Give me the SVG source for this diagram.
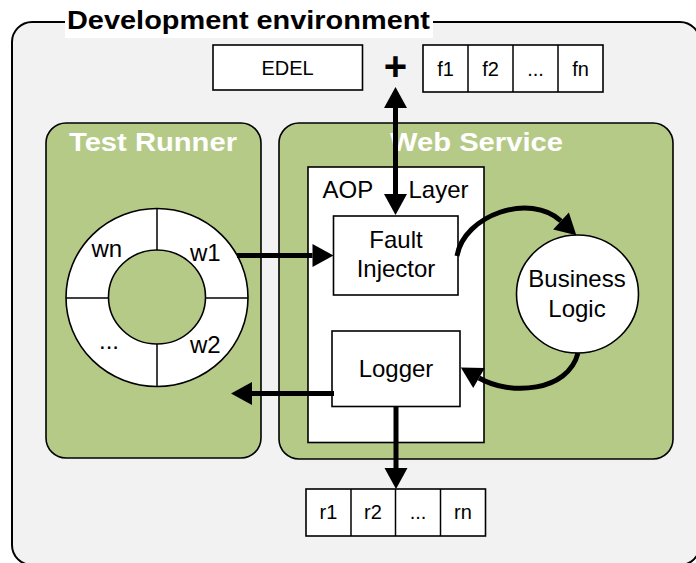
<svg xmlns="http://www.w3.org/2000/svg" width="696" height="563" viewBox="0 0 696 563">
  <style>
    .frame { fill: #f2f2f2; stroke: #000; stroke-width: 2; }
    .panel { fill: #b6ca88; stroke: #000; stroke-width: 1.6; }
    .box { fill: #fff; stroke: #000; stroke-width: 1.6; }
    .thin { fill: none; stroke: #000; stroke-width: 1.5; }
    .wire { fill: none; stroke: #000; stroke-width: 5; }
    .t { font-family: "Liberation Sans", Arial, sans-serif; fill: #000; }
    .t24 { font-size: 24px; }
    .t20 { font-size: 20px; }
    .mid { text-anchor: middle; }
    .head { font-family: "Liberation Sans", Arial, sans-serif; font-weight: bold; font-size: 26px; }
  </style>
  <defs>
    <marker id="arrow" markerUnits="userSpaceOnUse" markerWidth="24" markerHeight="26" refX="0" refY="12" orient="auto-start-reverse" viewBox="0 0 24 24" overflow="visible">
      <path d="M0,0.5 L21,12 L0,23.5 z" fill="#000"/>
    </marker>
  </defs>

  <!-- page background -->
  <rect x="0" y="0" width="696" height="563" fill="#fff"/>

  <!-- development environment frame -->
  <g id="environment">
    <rect class="frame" x="12" y="22" width="688" height="543" rx="20" ry="20"/>
    <rect x="65" y="0" width="368" height="38" fill="#fff"/>
    <text class="head" x="67" y="29" font-size="27" textLength="363" lengthAdjust="spacingAndGlyphs">Development environment</text>
  </g>

  <!-- fault model inputs -->
  <g id="edel">
    <rect class="box" x="213" y="45" width="149.5" height="45"/>
    <text class="t t20 mid" x="287.5" y="74.5">EDEL</text>
  </g>
  <g id="plus">
    <text class="t mid" x="395.5" y="79.5" font-size="40" font-weight="bold">+</text>
  </g>
  <g id="faults">
    <rect class="box" x="423" y="45" width="180" height="47"/>
    <line class="thin" x1="468" y1="45" x2="468" y2="92"/>
    <line class="thin" x1="513" y1="45" x2="513" y2="92"/>
    <line class="thin" x1="558" y1="45" x2="558" y2="92"/>
    <text class="t t20 mid" x="445.5" y="75.5">f1</text>
    <text class="t t20 mid" x="490.5" y="75.5">f2</text>
    <text class="t t20 mid" x="535.5" y="75.5">...</text>
    <text class="t t20 mid" x="580.5" y="75.5">fn</text>
  </g>

  <!-- test runner -->
  <g id="test-runner">
    <rect class="panel" x="46" y="123" width="215" height="335" rx="20" ry="20"/>
    <text class="head mid" x="153" y="151" fill="#fff" textLength="168" lengthAdjust="spacingAndGlyphs">Test Runner</text>
  </g>
  <g id="workers">
    <ellipse cx="157" cy="297.5" rx="91" ry="89" fill="#fff" stroke="#000" stroke-width="1.6"/>
    <ellipse cx="157" cy="297" rx="48.5" ry="47" fill="#b6ca88" stroke="#000" stroke-width="1.6"/>
    <line class="thin" x1="157" y1="208.5" x2="157" y2="250"/>
    <line class="thin" x1="157" y1="344" x2="157" y2="386.5"/>
    <line class="thin" x1="66" y1="298" x2="108.5" y2="298"/>
    <line class="thin" x1="205.5" y1="298" x2="248" y2="298"/>
    <text class="t t24" x="91.5" y="257">wn</text>
    <text class="t t24" x="190" y="261">w1</text>
    <text class="t t24" x="99" y="349">...</text>
    <text class="t t24" x="190" y="353">w2</text>
  </g>

  <!-- web service -->
  <g id="web-service">
    <rect class="panel" x="279" y="123" width="394" height="336" rx="20" ry="20"/>
    <text class="head mid" x="476.5" y="151" fill="#fff" textLength="173" lengthAdjust="spacingAndGlyphs">Web Service</text>
  </g>
  <g id="aop-layer">
    <rect class="box" x="308" y="167" width="176" height="275.5"/>
    <text class="t t24" x="322.5" y="197.5">AOP</text>
    <text class="t t24" x="408.5" y="197.5">Layer</text>
  </g>
  <g id="fault-injector">
    <rect class="box" x="333.5" y="216" width="124.5" height="79"/>
    <text class="t t24 mid" x="396" y="247.5">Fault</text>
    <text class="t t24 mid" x="396" y="277">Injector</text>
  </g>
  <g id="logger">
    <rect class="box" x="332" y="331" width="128" height="75.5"/>
    <text class="t t24 mid" x="396" y="377">Logger</text>
  </g>
  <g id="business-logic">
    <ellipse class="box" cx="577.5" cy="294" rx="61" ry="59"/>
    <text class="t t24 mid" x="577" y="287">Business</text>
    <text class="t t24 mid" x="577" y="317">Logic</text>
  </g>

  <!-- results -->
  <g id="results">
    <rect class="box" x="306" y="489" width="179.5" height="47"/>
    <line class="thin" x1="351" y1="489" x2="351" y2="536"/>
    <line class="thin" x1="395.5" y1="489" x2="395.5" y2="536"/>
    <line class="thin" x1="440.5" y1="489" x2="440.5" y2="536"/>
    <text class="t t20 mid" x="328.5" y="519">r1</text>
    <text class="t t20 mid" x="373" y="519">r2</text>
    <text class="t t20 mid" x="418" y="519">...</text>
    <text class="t t20 mid" x="463" y="519">rn</text>
  </g>

  <!-- connectors -->
  <g id="connectors">
    <line class="wire" x1="395.5" y1="108" x2="395.5" y2="194" marker-start="url(#arrow)" marker-end="url(#arrow)"/>
    <line class="wire" x1="237" y1="255.5" x2="312.5" y2="255.5" marker-end="url(#arrow)"/>
    <line class="wire" x1="334" y1="393.5" x2="252" y2="393.5" marker-end="url(#arrow)"/>
    <line class="wire" x1="396" y1="406" x2="396" y2="468" marker-end="url(#arrow)"/>
    <path class="wire" d="M457,256 C464,215 530,192 561,221" marker-end="url(#arrow)"/>
    <path class="wire" d="M578,353 C568,392 510,396 479,378" marker-end="url(#arrow)"/>
  </g>
</svg>
